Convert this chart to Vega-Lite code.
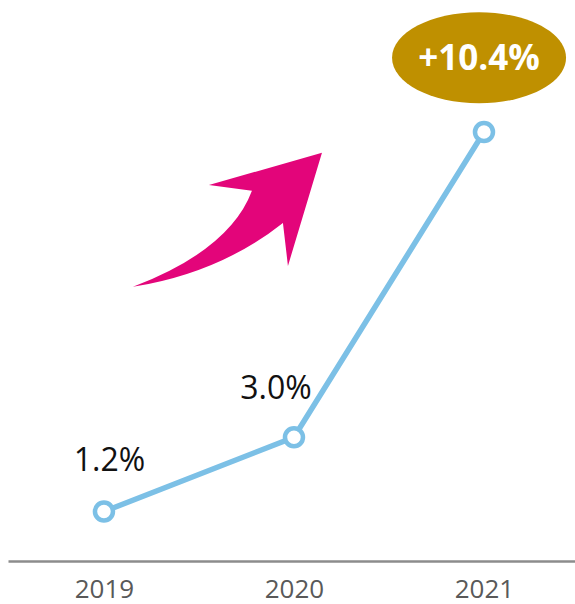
{
  "$schema": "https://vega.github.io/schema/vega-lite/v6.json",
  "autosize": "none",
  "width": 567,
  "height": 561,
  "padding": {"left": 8, "top": 0, "right": 0, "bottom": 43},
  "background": "white",
  "config": {"view": {"stroke": null}},
  "datasets": {
    "growth": [
      {"year": 2019, "value": 1.2, "label": "1.2%"},
      {"year": 2020, "value": 3.0, "label": "3.0%"},
      {"year": 2021, "value": 10.4, "label": "10.4%"}
    ],
    "badge": [
      {"year": 2020.974, "value": 12.2, "label": "+10.4%"}
    ],
    "arrow": [
      {"year": 2019.65, "value": 8.27}
    ]
  },
  "encoding": {
    "x": {
      "field": "year",
      "type": "quantitative",
      "scale": {"domain": [2018.495, 2021.479], "nice": false, "zero": false},
      "axis": {
        "values": [2019, 2020, 2021],
        "format": "d",
        "title": null,
        "grid": false,
        "ticks": false,
        "tickSize": 0,
        "labelPadding": 15,
        "labelFont": "Open Sans",
        "labelFontSize": 26,
        "labelColor": "#595959",
        "domainColor": "#8c8c8c",
        "domainWidth": 2.5
      }
    },
    "y": {
      "field": "value",
      "type": "quantitative",
      "scale": {"domain": [0, 13.6], "nice": false},
      "axis": null
    }
  },
  "layer": [
    {
      "data": {"name": "arrow"},
      "mark": {
        "type": "point",
        "shape": "M 1 -0.709 L -0.196 -0.37 L 0.259 -0.307 Q 0.026 0.317 -1 0.709 Q -0.079 0.561 0.587 0.032 L 0.64 0.487 Z",
        "size": 35721,
        "filled": true,
        "color": "#E3057A",
        "opacity": 1,
        "strokeWidth": 0
      }
    },
    {
      "data": {"name": "growth"},
      "mark": {"type": "line", "color": "#7CC0E6", "strokeWidth": 5.5}
    },
    {
      "data": {"name": "growth"},
      "mark": {
        "type": "point",
        "shape": "circle",
        "size": 324,
        "filled": true,
        "fill": "white",
        "stroke": "#7CC0E6",
        "strokeWidth": 4.5,
        "opacity": 1
      }
    },
    {
      "data": {"name": "growth"},
      "transform": [{"filter": "datum.year == 2019"}],
      "mark": {
        "type": "text",
        "font": "Open Sans",
        "fontSize": 32,
        "color": "#111111",
        "baseline": "alphabetic",
        "align": "center",
        "dx": 5.5,
        "dy": -40.5
      },
      "encoding": {"text": {"field": "label"}}
    },
    {
      "data": {"name": "growth"},
      "transform": [{"filter": "datum.year == 2020"}],
      "mark": {
        "type": "text",
        "font": "Open Sans",
        "fontSize": 32,
        "color": "#111111",
        "baseline": "alphabetic",
        "align": "center",
        "dx": -18,
        "dy": -38
      },
      "encoding": {"text": {"field": "label"}}
    },
    {
      "data": {"name": "badge"},
      "mark": {
        "type": "point",
        "shape": "M -1 0 A 1 0.523 0 1 1 1 0 A 1 0.523 0 1 1 -1 0 Z",
        "size": 30276,
        "filled": true,
        "color": "#BF9000",
        "opacity": 1,
        "strokeWidth": 0
      }
    },
    {
      "data": {"name": "badge"},
      "mark": {
        "type": "text",
        "font": "Open Sans",
        "fontSize": 35,
        "fontWeight": "bold",
        "color": "white",
        "baseline": "middle",
        "align": "center",
        "dy": 1
      },
      "encoding": {"text": {"field": "label"}}
    }
  ]
}
